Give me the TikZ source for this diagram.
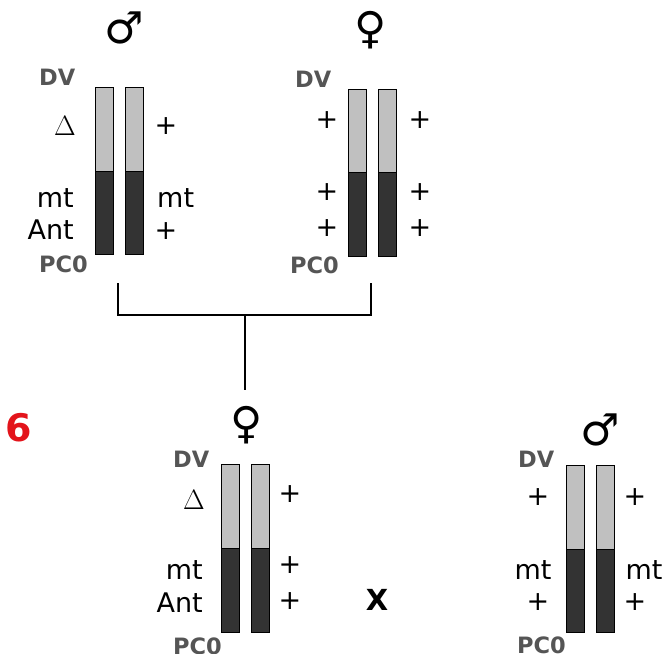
\documentclass[tikz,border=0pt]{standalone}
\usepackage{fontspec}
\setmainfont{DejaVu Sans}
\newfontfamily\lmr{Latin Modern Roman}
\definecolor{armlight}{HTML}{C0C0C0}
\definecolor{armdark}{HTML}{333333}
\definecolor{tagcol}{HTML}{555555}
\definecolor{panelred}{HTML}{E3141B}

\tikzset{
  allele/.style={font=\fontsize{27}{27}\selectfont, inner sep=0pt},
  tagtext/.style={font=\fontsize{22.5}{22.5}\selectfont\bfseries, text=tagcol, inner sep=0pt, anchor=west},
  sexsym/.style={font=\fontsize{44}{44}\selectfont, inner sep=0pt},
  deltxt/.style={font=\fontsize{28}{28}\selectfont\lmr, inner sep=0pt},
  armup/.style={fill=armlight, draw=black, line width=0.8pt},
  armdown/.style={fill=armdark, draw=black, line width=0.8pt},
  link/.style={line width=1.4pt},
}

% one chromosome: left x, top y, centromere-side split y, bottom y
\newcommand\chromobar[4]{%
  \path[armup] (#1,#2) rectangle (#1+18,#3);
  \path[armdown] (#1,#3) rectangle (#1+18,#4);
}

\begin{document}
\begin{tikzpicture}[x=1pt,y=-1pt]
\useasboundingbox (0,0) rectangle (663,653);

% ---------- parental male ----------
\node[sexsym] (symA) at (124,28) {♂};
\node[tagtext] (dvA) at (39,77) {DV};
\chromobar{95}{87}{171}{254}
\chromobar{125}{87}{171}{254}
\node[deltxt] (delA) at (65,126) {Δ};
\node[allele] (pA1) at (166,126) {+};
\node[allele, anchor=east] (mtA) at (74,198) {mt};
\node[allele, anchor=east] (antA) at (74,230) {Ant};
\node[allele, anchor=west] (mtA2) at (157,198) {mt};
\node[allele] (pA2) at (166,231) {+};
\node[tagtext] (pcA) at (39,264) {PC0};

% ---------- parental female ----------
\node[sexsym] (symB) at (371,30) {♀};
\node[tagtext] (dvB) at (295,79) {DV};
\chromobar{348}{89}{172}{256}
\chromobar{378}{89}{172}{256}
\node[allele] (pB1) at (327,120) {+};
\node[allele] (pB2) at (327,192) {+};
\node[allele] (pB3) at (327,228) {+};
\node[allele] (pB4) at (420,120) {+};
\node[allele] (pB5) at (420,192) {+};
\node[allele] (pB6) at (420,228) {+};
\node[tagtext] (pcB) at (290,265) {PC0};

% ---------- cross bracket ----------
\coordinate (jA) at (118,283);
\coordinate (jB) at (371,283);
\coordinate (hub) at (245,315);
\coordinate (down) at (245,390);
\draw[link] (jA) |- (hub) -| (jB);
\draw[link] (hub) -- (down);

% ---------- panel number ----------
\node[font=\fontsize{38}{38}\selectfont\bfseries, text=panelred, inner sep=0pt] (num) at (19,428) {6};

% ---------- progeny female ----------
\node[sexsym] (symC) at (247,425) {♀};
\node[tagtext] (dvC) at (173,459) {DV};
\chromobar{221}{464}{548}{632}
\chromobar{251}{464}{548}{632}
\node[deltxt] (delC) at (194,500) {Δ};
\node[allele] (pC1) at (290,494) {+};
\node[allele] (pC2) at (290,565) {+};
\node[allele] (pC3) at (290,601) {+};
\node[allele, anchor=east] (mtC) at (203,570) {mt};
\node[allele, anchor=east] (antC) at (203,603) {Ant};
\node[tagtext] (pcC) at (173,646) {PC0};

% ---------- cross sign ----------
\node[font=\fontsize{29}{29}\selectfont\bfseries, inner sep=0pt] (cross) at (377,600) {X};

% ---------- tester male ----------
\node[sexsym] (symD) at (600,430) {♂};
\node[tagtext] (dvD) at (518,459) {DV};
\chromobar{566}{465}{549}{632}
\chromobar{596}{465}{549}{632}
\node[allele] (pD1) at (538,497) {+};
\node[allele] (mtD) at (533,570) {mt};
\node[allele] (pD2) at (538,602) {+};
\node[allele] (pD3) at (635,497) {+};
\node[allele] (mtD2) at (644,570) {mt};
\node[allele] (pD4) at (635,602) {+};
\node[tagtext] (pcD) at (517,645) {PC0};
\end{tikzpicture}
\end{document}
